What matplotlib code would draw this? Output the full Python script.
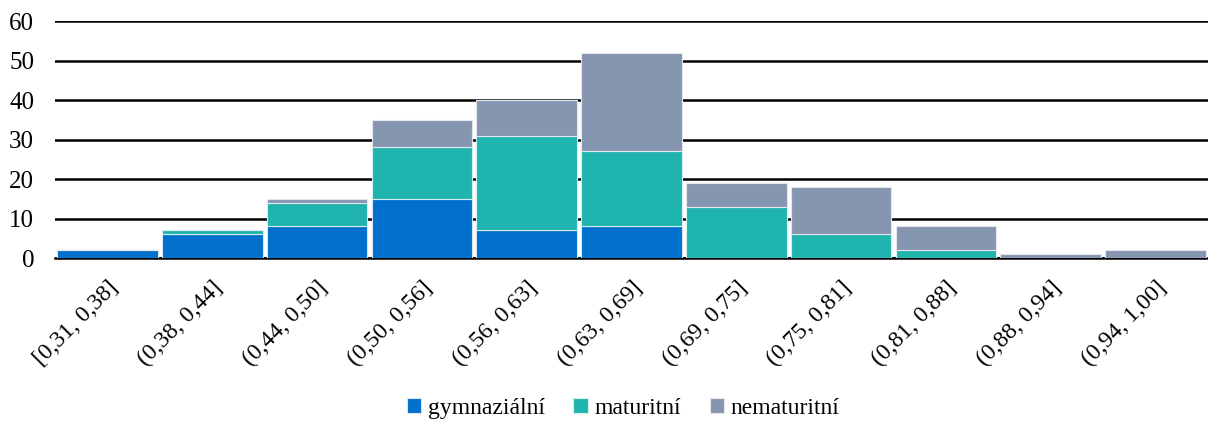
import numpy as np
import matplotlib.pyplot as plt

plt.rcParams['font.family'] = ['Liberation Serif', 'DejaVu Serif']

categories = ['[0,31, 0,38]', '(0,38, 0,44]', '(0,44, 0,50]', '(0,50, 0,56]',
              '(0,56, 0,63]', '(0,63, 0,69]', '(0,69, 0,75]', '(0,75, 0,81]',
              '(0,81, 0,88]', '(0,88, 0,94]', '(0,94, 1,00]']
gymnazialni = [2, 6, 8, 15, 7, 8, 0, 0, 0, 0, 0]
maturitni = [0, 1, 6, 13, 24, 19, 13, 6, 2, 0, 0]
nematuritni = [0, 0, 1, 7, 9, 25, 6, 12, 6, 1, 2]

x = np.arange(len(categories))
g = np.array(gymnazialni)
m = np.array(maturitni)
n = np.array(nematuritni)

fig = plt.figure(figsize=(12.08, 4.21), dpi=100)
ax = fig.add_axes([0.0455, 0.387, 0.9545, 0.563])

w = 0.96
ax.bar(x, g, w, color='#0070cc', edgecolor='#d9e4f2', linewidth=0.8, label='gymnaziální', zorder=3)
ax.bar(x, m, w, bottom=g, color='#20b4ae', edgecolor='#d9eeee', linewidth=0.8, label='maturitní', zorder=3)
ax.bar(x, n, w, bottom=g + m, color='#8796b0', edgecolor='#e4e8ee', linewidth=0.8, label='nematuritní', zorder=3)

ax.set_xlim(-0.5, len(categories) - 0.5)
ax.set_ylim(0, 60)
ax.set_yticks(range(0, 61, 10))
ax.yaxis.grid(True, color='black', linewidth=1.8)
ax.set_axisbelow(True)
for s in ['top', 'right', 'left']:
    ax.spines[s].set_visible(False)
ax.spines['bottom'].set_linewidth(1.8)
ax.tick_params(axis='y', length=0, labelsize=18, pad=15)
ax.tick_params(axis='x', length=0, labelsize=17, pad=14)
ax.set_xticks(x)
ax.set_xticklabels(categories, rotation=45, ha='right', rotation_mode='anchor')

fig.legend(loc='center', bbox_to_anchor=(0.516, 0.03), ncol=3, frameon=False,
           fontsize=17, handlelength=0.6, handleheight=0.6, handletextpad=0.3, columnspacing=1.2)

plt.savefig('out.png', dpi=100)
